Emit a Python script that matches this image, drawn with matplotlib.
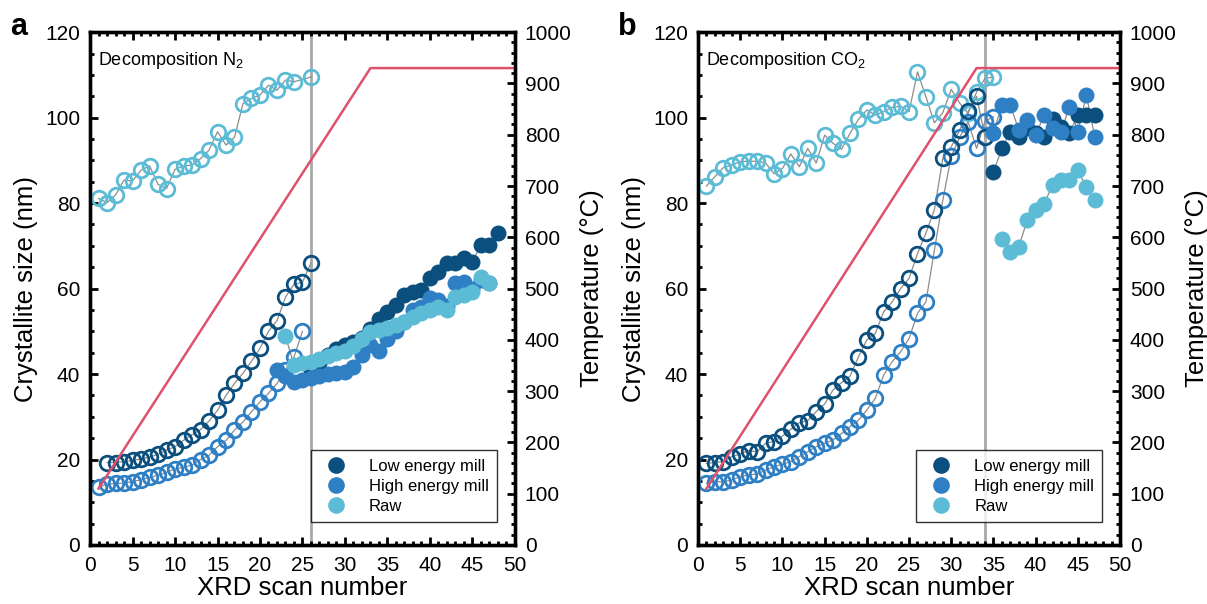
import matplotlib
matplotlib.use("Agg")
import matplotlib.pyplot as plt
import numpy as np
from matplotlib.ticker import MultipleLocator
from matplotlib.lines import Line2D

plt.rcParams['font.family'] = ['Liberation Sans', 'DejaVu Sans']
plt.rcParams['mathtext.fontset'] = 'custom'
plt.rcParams['mathtext.rm'] = 'Liberation Sans'

c_low = "#0b4f7e"
c_high = "#2f7fc4"
c_raw = "#5cbcd6"
c_temp = "#e0516b"

# ---- panel a: decomposition in N2 ----
a_raw_open_x = list(range(1, 25)) + [26]
a_raw_open_y = [81.1, 80.1, 81.9, 85.4, 85.2, 87.7, 88.7, 84.4, 83.4, 87.9, 88.7, 88.9,
                90.4, 92.4, 96.7, 93.6, 95.4, 103.3, 104.5, 105.3, 107.6, 106.4, 108.8,
                108.4, 109.5]
a_low_open_x = list(range(2, 27))
a_low_open_y = [19.3, 19.3, 19.5, 19.8, 20.1, 20.6, 21.2, 22.2, 23.0, 24.5, 25.8, 27.0,
                29.0, 31.5, 35.0, 37.8, 40.2, 43.0, 46.0, 50.0, 52.5, 58.0, 61.0, 61.5, 66.0]
a_high_open_x = list(range(1, 26))
a_high_open_y = [13.6, 14.2, 14.4, 14.5, 14.8, 15.3, 15.8, 16.3, 17.0, 17.8, 18.2, 18.7,
                 20.0, 21.0, 23.0, 24.5, 26.9, 28.8, 31.2, 33.5, 35.5, 37.8, 41.0, 44.0, 50.0]
a_low_fill_x = list(range(26, 49))
a_low_fill_y = [41.0, 42.5, 44.5, 45.8, 46.8, 47.5, 48.5, 50.5, 53.0, 54.6, 56.1, 58.5,
                59.3, 59.6, 62.4, 63.9, 65.9, 65.9, 67.1, 66.3, 70.2, 70.2, 72.9]
a_high_fill_x = list(range(22, 48))
a_high_fill_y = [41.0, 39.5, 38.2, 38.5, 39.0, 39.5, 40.0, 40.2, 40.5, 41.7, 44.4, 46.8,
                 45.5, 48.3, 50.0, 52.2, 55.0, 55.7, 57.7, 57.3, 56.0, 61.2, 61.6, 60.0,
                 62.0, 61.2]
a_raw_fill_x = list(range(23, 48))
a_raw_fill_y = [48.9, 42.1, 42.5, 42.9, 43.5, 44.2, 45.0, 45.5, 46.5, 48.3, 49.9, 50.3,
                50.8, 51.5, 52.2, 53.4, 54.2, 55.0, 55.7, 55.0, 58.1, 58.5, 59.3, 62.8, 61.3]
a_temp_x = [1, 33, 50]
a_temp_y = [110, 930, 930]
a_switch = 26

# ---- panel b: decomposition in CO2 ----
b_raw_open_x = list(range(1, 36))
b_raw_open_y = [84.0, 86.2, 88.3, 88.9, 89.7, 89.8, 89.8, 89.4, 86.9, 88.1, 91.5, 88.5,
                92.8, 89.4, 95.9, 94.0, 92.6, 96.3, 99.6, 101.8, 100.6, 101.4, 102.4,
                102.7, 101.4, 110.7, 104.9, 98.8, 101.2, 106.6, 103.4, 101.0, 106.0,
                109.2, 109.5]
b_low_open_x = list(range(1, 35))
b_low_open_y = [19.1, 19.3, 19.5, 20.7, 21.3, 22.1, 21.8, 23.8, 24.2, 25.5, 27.1, 28.6,
                29.1, 31.2, 33.0, 36.3, 38.0, 39.5, 44.0, 48.0, 49.5, 54.6, 56.9, 60.0,
                62.4, 68.2, 73.0, 78.4, 90.5, 93.2, 97.1, 101.5, 105.0, 95.5]
b_high_open_x = list(range(1, 36))
b_high_open_y = [14.4, 14.8, 14.8, 15.2, 16.0, 16.4, 16.6, 17.5, 18.3, 18.9, 19.5, 20.7,
                 21.8, 23.0, 23.8, 24.6, 26.1, 27.7, 29.2, 31.6, 34.3, 39.8, 42.9, 45.2,
                 48.3, 54.2, 56.9, 69.0, 80.7, 91.0, 95.4, 99.0, 92.8, 99.2, 100.2]
b_low_fill_x = list(range(35, 48))
b_low_fill_y = [87.3, 92.8, 96.7, 95.4, 97.5, 96.3, 95.4, 99.8, 97.9, 96.5, 100.6, 100.6, 100.6]
b_high_fill_x = list(range(35, 48))
b_high_fill_y = [96.5, 102.9, 102.9, 97.1, 99.4, 95.9, 100.6, 97.5, 96.7, 102.5, 96.7, 105.3, 95.5]
b_raw_fill_x = list(range(36, 48))
b_raw_fill_y = [71.7, 68.6, 69.8, 76.0, 78.4, 79.9, 84.2, 85.4, 85.4, 87.7, 83.7, 80.7]
b_temp_x = [1, 33, 50]
b_temp_y = [110, 930, 930]
b_switch = 34

fig = plt.figure(figsize=(12.07, 6.04), dpi=100)


def style_ax(ax):
    for s in ax.spines.values():
        s.set_linewidth(2.4)
    ax.tick_params(which='both', direction='in', width=2, labelsize=15, pad=7)
    ax.tick_params(which='major', length=6)
    ax.tick_params(which='minor', length=3)


def series(ax, x, y, color, filled):
    ax.plot(x, y, '-', color='#8c8c8c', lw=0.9, zorder=2)
    if filled:
        ax.plot(x, y, 'o', ms=11.5, mfc=color, mec=color, mew=0, zorder=3)
    else:
        ax.plot(x, y, 'o', ms=10.5, mfc='none', mec=color, mew=2.0, zorder=3)


def panel(rect, letter, title, d, switch, tx, ty):
    ax = fig.add_axes(rect)
    series(ax, d[0][0], d[0][1], c_raw, False)
    series(ax, d[1][0], d[1][1], c_high, False)
    series(ax, d[2][0], d[2][1], c_low, False)
    series(ax, d[5][0], d[5][1], c_low, True)
    series(ax, d[4][0], d[4][1], c_high, True)
    series(ax, d[3][0], d[3][1], c_raw, True)
    ax.axvline(switch, color='#a8a8a8', lw=2, zorder=1)
    ax.set_xlim(0, 50)
    ax.set_ylim(0, 120)
    ax.xaxis.set_major_locator(MultipleLocator(5))
    ax.xaxis.set_minor_locator(MultipleLocator(1))
    ax.yaxis.set_major_locator(MultipleLocator(20))
    ax.yaxis.set_minor_locator(MultipleLocator(5))
    style_ax(ax)
    ax.tick_params(which='both', top=True)
    ax.tick_params(axis='x', pad=8)
    ax.set_xlabel('XRD scan number', fontsize=18.5, labelpad=1)
    ax.set_ylabel('Crystallite size (nm)', fontsize=18.5, labelpad=5)
    ax.text(0.018, 0.965, title, transform=ax.transAxes, fontsize=13, va='top', ha='left')

    handles = [Line2D([], [], ls='none', marker='o', ms=12, mfc=c, mec=c, mew=0)
               for c in (c_low, c_high, c_raw)]
    leg = ax.legend(handles, ['Low energy mill', 'High energy mill', 'Raw'],
                    loc='lower right', bbox_to_anchor=(0.958, 0.045), borderaxespad=0,
                    fontsize=12, frameon=True, fancybox=False, edgecolor='black',
                    handletextpad=1.0, borderpad=0.5, labelspacing=0.3, handlelength=2.0)
    leg.get_frame().set_linewidth(1.0)
    leg.set_zorder(10)

    ax2 = ax.twinx()
    ax2.plot(tx, ty, '-', color=c_temp, lw=1.8)
    ax2.set_ylim(0, 1000)
    ax2.yaxis.set_major_locator(MultipleLocator(100))
    ax2.yaxis.set_minor_locator(MultipleLocator(20))
    style_ax(ax2)
    ax2.set_ylabel('Temperature (\u00b0C)', fontsize=18.5, labelpad=6)
    fig.text(rect[0] - 0.066, 0.955, letter, fontsize=22, fontweight='bold', va='center')
    return ax, ax2


panel([0.0746, 0.0977, 0.352, 0.849], 'a', 'Decomposition N$_2$',
      [(a_raw_open_x, a_raw_open_y), (a_high_open_x, a_high_open_y), (a_low_open_x, a_low_open_y),
       (a_raw_fill_x, a_raw_fill_y), (a_high_fill_x, a_high_fill_y), (a_low_fill_x, a_low_fill_y)],
      a_switch, a_temp_x, a_temp_y)

panel([0.5783, 0.0977, 0.3497, 0.849], 'b', 'Decomposition CO$_2$',
      [(b_raw_open_x, b_raw_open_y), (b_high_open_x, b_high_open_y), (b_low_open_x, b_low_open_y),
       (b_raw_fill_x, b_raw_fill_y), (b_high_fill_x, b_high_fill_y), (b_low_fill_x, b_low_fill_y)],
      b_switch, b_temp_x, b_temp_y)

fig.savefig('out.png', dpi=100)
